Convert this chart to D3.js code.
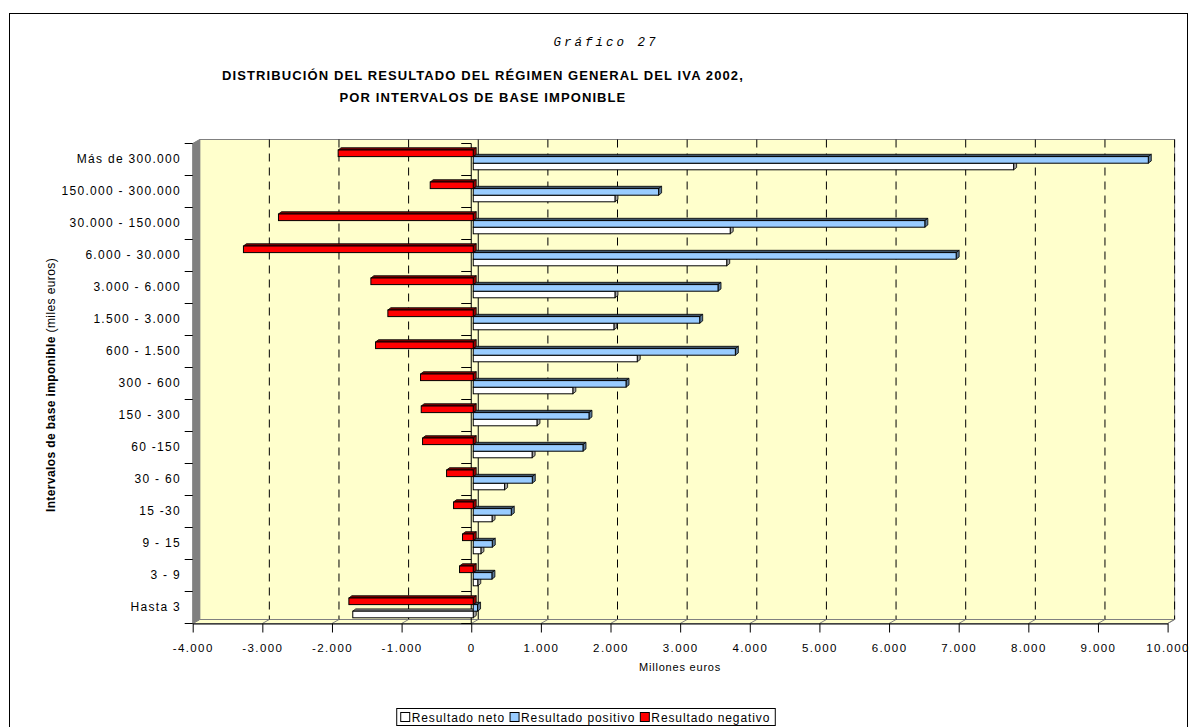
<!DOCTYPE html>
<html>
<head>
<meta charset="utf-8">
<script src="https://cdn.jsdelivr.net/npm/d3@7/dist/d3.min.js"></script>
<style>
  html, body { margin: 0; padding: 0; background: #fff; }
  svg { display: block; font-family: Arial, "Liberation Sans", sans-serif; }
</style>
</head>
<body>
<svg id="chart" width="1195" height="727"></svg>
<script>
// ---------- DATA ----------
const categories = ["Hasta 3", "3 - 9", "9 - 15", "15 -30", "30 - 60", "60 -150", "150 - 300", "300 - 600",
  "600 - 1.500", "1.500 - 3.000", "3.000 - 6.000", "6.000 - 30.000", "30.000 - 150.000", "150.000 - 300.000", "Más de 300.000"];
const resultadoNeto = [-1730, 65, 110, 270, 450, 845, 915, 1430, 2355, 2020, 2035, 3640, 3690, 2035, 7760];
const resultadoPositivo = [62, 268, 273, 546, 848, 1576, 1662, 2194, 3764, 3252, 3515, 6935, 6485, 2662, 9694];
const resultadoNegativo = [-1786, -197, -154, -283, -383, -728, -747, -757, -1403, -1226, -1470, -3300, -2797, -618, -1940];
const xTickValues = [-4000, -3000, -2000, -1000, 0, 1000, 2000, 3000, 4000, 5000, 6000, 7000, 8000, 9000, 10000];
const seriesNames = ["Resultado neto", "Resultado positivo", "Resultado negativo"];
const seriesColors = ["#FFFFFF", "#99CCFF", "#FF0000"];
const topColors = ["#8c8c8c", "#3d5266", "#7a0000"];
const endColors = ["#a6a6a6", "#5c7a99", "#990000"];

const svg = d3.select("#chart");
const loc = d3.formatLocale({decimal: ",", thousands: ".", grouping: [3], currency: ["", " €"], minus: "-"});
const fmt = loc.format(",d");

// ---------- LAYOUT ----------
const X0 = 192.7, X1 = 1167.6, YT = 143.5, YB = 623.5;
const DX = 7, DY = -4;           // depth offset of back wall
const BX = 2;                     // bar front plane offset
const BDX = 3, BDY = -2.3;        // bar depth
const x = d3.scaleLinear().domain([-4000, 10000]).range([X0, X1]);
const y = d3.scaleBand().domain(categories.slice().reverse()).range([YT, YB]);

// outer frame
svg.append("rect").attr("x", 9.5).attr("y", 13.5).attr("width", 1178).attr("height", 730)
  .attr("fill", "#fff").attr("stroke", "#000").attr("stroke-width", 1);

// titles
svg.append("text").attr("x", 606).attr("y", 46).attr("text-anchor", "middle")
  .attr("font-family", "'Liberation Mono', 'DejaVu Sans Mono', monospace").attr("font-style", "italic")
  .attr("font-size", 12.5).attr("letter-spacing", 3).text("Gráfico  27");
const titleLines = ["DISTRIBUCIÓN DEL RESULTADO DEL RÉGIMEN GENERAL DEL IVA 2002,", "POR INTERVALOS DE BASE IMPONIBLE"];
titleLines.forEach((t, i) => {
  svg.append("text").attr("x", 483).attr("y", 80 + i * 22).attr("text-anchor", "middle")
    .attr("font-weight", "bold").attr("font-size", 13).attr("letter-spacing", 1.1).text(t);
});

// ---------- 3D WALLS ----------
const g = svg.append("g");
g.append("rect").attr("x", X0 + DX).attr("y", YT + DY).attr("width", X1 - X0).attr("height", YB - YT)
  .attr("fill", "#FFFFCC").attr("stroke", "#808080").attr("stroke-width", 1);
g.append("path").attr("d", `M${X0},${YT}L${X0 + DX},${YT + DY}L${X0 + DX},${YB + DY}L${X0},${YB}Z`)
  .attr("fill", "#808080").attr("stroke", "#808080");
g.append("path").attr("d", `M${X0},${YB}L${X1},${YB}L${X1 + DX},${YB + DY}L${X0 + DX},${YB + DY}Z`)
  .attr("fill", "#FFFFCC").attr("stroke", "#808080");

xTickValues.forEach(v => {
  const xb = x(v) + DX;
  if (v === 0) {
    g.append("line").attr("x1", xb).attr("x2", xb).attr("y1", YT + DY).attr("y2", YB + DY)
      .attr("stroke", "#000").attr("stroke-width", 1);
  } else if (v !== -4000) {
    g.append("line").attr("x1", xb).attr("x2", xb).attr("y1", YT + DY).attr("y2", YB + DY)
      .attr("stroke", "#000").attr("stroke-width", 1).attr("stroke-dasharray", "8,6");
  }
  g.append("line").attr("x1", x(v)).attr("y1", YB).attr("x2", xb).attr("y2", YB + DY)
    .attr("stroke", "#808080").attr("stroke-width", 1);
});

g.append("line").attr("x1", x(0)).attr("x2", x(0)).attr("y1", YT).attr("y2", YB)
  .attr("stroke", "#000").attr("stroke-width", 1);
const bounds = categories.map((c, i) => YT + i * y.step()).concat([YB]);
bounds.forEach(b => {
  g.append("line").attr("x1", x(0) - 10).attr("x2", x(0)).attr("y1", b).attr("y2", b)
    .attr("stroke", "#000").attr("stroke-width", 1);
  g.append("line").attr("x1", X0 - 8).attr("x2", X0).attr("y1", b).attr("y2", b)
    .attr("stroke", "#000").attr("stroke-width", 1);
});

// ---------- BARS ----------
const barH = 6.6;
const seriesVals = [resultadoNeto, resultadoPositivo, resultadoNegativo];
const offsets = [19.7, 13.1, 6.5];
const bars = g.append("g");
categories.forEach((c, ci) => {
  [0, 1, 2].forEach(si => {
    const v = seriesVals[si][ci];
    const xa = x(Math.min(0, v)) + BX, xb = x(Math.max(0, v)) + BX;
    const yt = y(c) + offsets[si];
    const bg = bars.append("g");
    bg.append("path")
      .attr("d", `M${xa},${yt}L${xb},${yt}L${xb + BDX},${yt + BDY}L${xa + BDX},${yt + BDY}Z`)
      .attr("fill", topColors[si]).attr("stroke", "#000").attr("stroke-width", 0.8);
    bg.append("path")
      .attr("d", `M${xb},${yt}L${xb + BDX},${yt + BDY}L${xb + BDX},${yt + barH + BDY}L${xb},${yt + barH}Z`)
      .attr("fill", endColors[si]).attr("stroke", "#000").attr("stroke-width", 0.8);
    bg.append("rect").attr("x", xa).attr("y", yt).attr("width", Math.max(0.5, xb - xa)).attr("height", barH)
      .attr("fill", seriesColors[si]).attr("stroke", "#000").attr("stroke-width", 1);
  });
});

// ---------- AXES ----------
const xAxis = d3.axisBottom(x).tickValues(xTickValues).tickFormat(fmt).tickSize(9).tickSizeOuter(0);
const ax = svg.append("g").attr("transform", `translate(0,${YB})`).call(xAxis);
ax.select(".domain").attr("stroke", "#000");
ax.selectAll("text").attr("font-size", 11.5).attr("letter-spacing", 1.4).attr("fill", "#000")
  .attr("font-family", "Arial, 'Liberation Sans', sans-serif").attr("dy", "1.4em");

const yAxis = d3.axisLeft(y).tickSize(0).tickPadding(0);
const ay = svg.append("g").attr("transform", `translate(181,0)`).call(yAxis);
ay.select(".domain").remove();
ay.selectAll("text").attr("font-size", 12).attr("letter-spacing", 1.3).attr("fill", "#000")
  .attr("font-family", "Arial, 'Liberation Sans', sans-serif");

svg.append("text").attr("x", 680).attr("y", 671).attr("text-anchor", "middle")
  .attr("font-size", 11).attr("letter-spacing", 0.8).text("Millones euros");
const yt = svg.append("text").attr("transform", "translate(55,385) rotate(-90)").attr("text-anchor", "middle")
  .attr("font-size", 12).attr("letter-spacing", 0.4);
yt.append("tspan").attr("font-weight", "bold").text("Intervalos de base imponible");
yt.append("tspan").text(" (miles euros)");

// ---------- LEGEND ----------
const leg = svg.append("g");
const items = [];
seriesNames.forEach((n, i) => {
  const it = leg.append("g");
  it.append("rect").attr("x", 0).attr("y", -4.5).attr("width", 9).attr("height", 9)
    .attr("fill", seriesColors[i]).attr("stroke", "#000");
  const t = it.append("text").attr("x", 11).attr("y", 4.5).attr("font-size", 12).attr("letter-spacing", 0.9).text(n);
  items.push({it, w: 11 + t.node().getComputedTextLength() + 5});
});
const total = items.reduce((s, d) => s + d.w, 0) + 4;
const lx = 586 - total / 2;
leg.insert("rect", ":first-child").attr("x", lx).attr("y", 708.5).attr("width", total).attr("height", 17)
  .attr("fill", "#fff").attr("stroke", "#000");
let px = lx + 4;
items.forEach(d => { d.it.attr("transform", `translate(${px},717)`); px += d.w; });
</script>
</body>
</html>
